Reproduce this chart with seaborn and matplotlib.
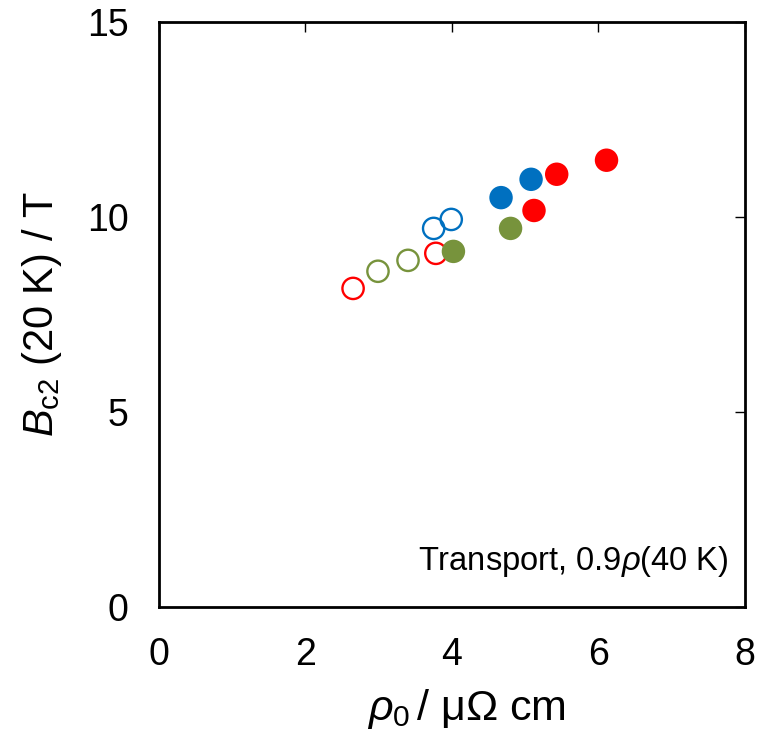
import pandas as pd
import matplotlib
matplotlib.use('Agg')
import matplotlib.pyplot as plt
import seaborn as sns

# values
rho_open_red = [2.65, 3.78]
bc2_open_red = [8.17, 9.07]
rho_open_green = [2.99, 3.40]
bc2_open_green = [8.61, 8.89]
rho_open_blue = [3.75, 3.99]
bc2_open_blue = [9.71, 9.94]
rho_fill_green = [4.02, 4.80]
bc2_fill_green = [9.12, 9.71]
rho_fill_blue = [4.67, 5.08]
bc2_fill_blue = [10.50, 10.97]
rho_fill_red = [5.12, 5.43, 6.11]
bc2_fill_red = [10.17, 11.10, 11.46]

colors = {'red': '#FF0000', 'green': '#77933C', 'blue': '#0070C0'}

sets = [
    ('red', False, rho_open_red, bc2_open_red),
    ('green', False, rho_open_green, bc2_open_green),
    ('blue', False, rho_open_blue, bc2_open_blue),
    ('green', True, rho_fill_green, bc2_fill_green),
    ('blue', True, rho_fill_blue, bc2_fill_blue),
    ('red', True, rho_fill_red, bc2_fill_red),
]

rows = []
for c, filled, xs, ys in sets:
    for x, y in zip(xs, ys):
        rows.append({'rho': x, 'bc2': y, 'color': c, 'filled': filled})
df = pd.DataFrame(rows)

sns.set_style('white')
plt.rcParams['font.family'] = ['Liberation Sans', 'DejaVu Sans']
plt.rcParams['mathtext.fontset'] = 'custom'
plt.rcParams['mathtext.rm'] = 'Liberation Sans'
plt.rcParams['mathtext.it'] = 'Liberation Sans:italic'
plt.rcParams['text.color'] = 'black'
plt.rcParams['axes.labelcolor'] = 'black'
plt.rcParams['xtick.color'] = 'black'
plt.rcParams['ytick.color'] = 'black'

fig = plt.figure(figsize=(7.65, 7.31), dpi=100)
ax = fig.add_axes([0.2078, 0.170, 0.7660, 0.7995])

for c in ['red', 'green', 'blue']:
    sub = df[(df['color'] == c) & (~df['filled'])]
    sns.scatterplot(data=sub, x='rho', y='bc2', ax=ax, s=235,
                    facecolor='none', edgecolor=colors[c], linewidth=1.7)
    sub = df[(df['color'] == c) & (df['filled'])]
    sns.scatterplot(data=sub, x='rho', y='bc2', ax=ax, s=285,
                    color=colors[c], edgecolor='none', linewidth=0)

ax.set_xlim(0, 8)
ax.set_ylim(0, 15)
ax.set_xticks([0, 2, 4, 6, 8])
ax.set_yticks([0, 5, 10, 15])
ax.tick_params(direction='in', top=True, right=True, length=7, width=1,
               labelsize=27, pad=22)
for sp in ax.spines.values():
    sp.set_linewidth(2)
    sp.set_color('black')

ax.set_xlabel(r'$\rho_0\,$/ μΩ cm', fontsize=31)
ax.xaxis.set_label_coords(0.525, -0.137)
ax.set_ylabel(r'$B_{\rm c2}$ (20 K) / T', fontsize=30, labelpad=16)
ax.text(0.972, 0.048, r'Transport, 0.9$\rho$(40 K)', transform=ax.transAxes,
        ha='right', va='bottom', fontsize=23.5)

fig.savefig('out.png', dpi=100)
